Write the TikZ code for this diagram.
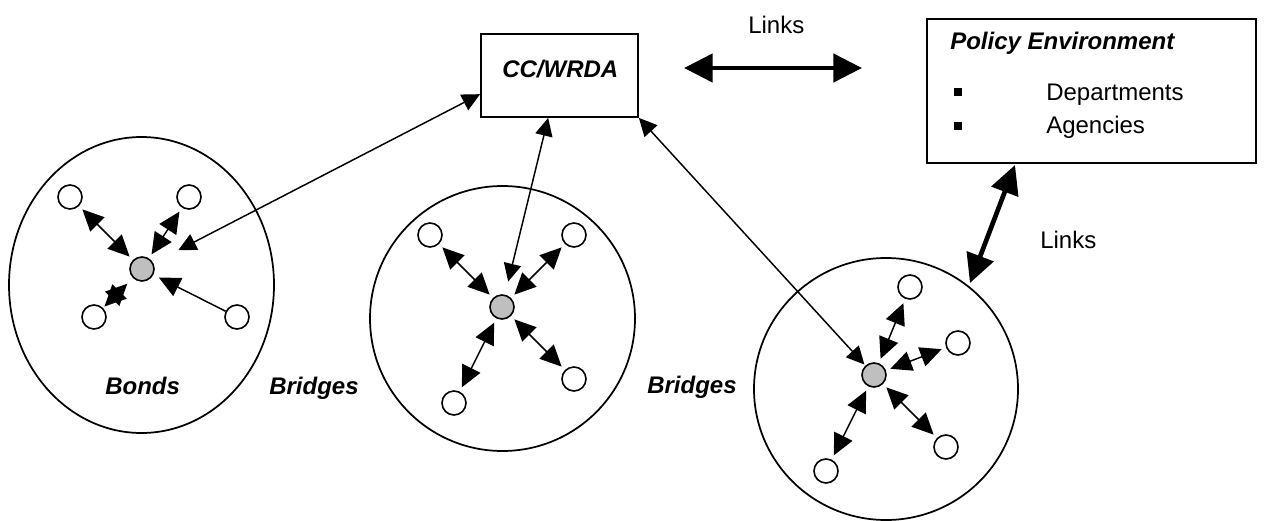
\documentclass[tikz,border=0pt]{standalone}
\usepackage{fontspec}
\setmainfont{Liberation Sans}
\usetikzlibrary{arrows.meta,shapes.geometric}
\begin{document}
\begin{tikzpicture}[x=0.75pt,y=-0.75pt,
  txt/.style={font=\fontsize{18}{21}\selectfont, anchor=base west, inner sep=0pt},
  btxt/.style={txt, font=\fontsize{18}{21}\selectfont\bfseries\itshape},
  sn/.style={circle, draw, line width=1.2pt, fill=white, minimum size=18pt, inner sep=0pt},
  hub/.style={sn, fill=gray!50},
  grp/.style={ellipse, draw, line width=1.3pt, inner sep=0pt},
  box/.style={rectangle, draw, line width=1.3pt, inner sep=0pt},
  tip/.style={-{Triangle[length=16pt,width=15pt]}},
  dtip/.style={{Triangle[length=16pt,width=15pt]}-{Triangle[length=16pt,width=15pt]}},
  ctip/.style={{Triangle[length=13.5pt,width=13pt]}-{Triangle[length=13.5pt,width=13pt]}},
  bond/.style={dtip, line width=1.1pt, shorten <=3.5pt, shorten >=3.5pt},
  conn/.style={ctip, line width=1.1pt},
  link/.style={{Triangle[length=21.5pt,width=21pt]}-{Triangle[length=21.5pt,width=21pt]}, line width=3.5pt},
  bullet/.style={rectangle, fill=black, minimum size=6pt, inner sep=0pt}
]
\useasboundingbox (0,0) rectangle (1265,521);

% boxes
\node[box, minimum width=117.75pt, minimum height=62.25pt] (cc) at (559.5,75.5) {};
\node[btxt] (cct) at (502,77) {CC/WRDA};
\node[box, minimum width=246.75pt, minimum height=108pt] (pol) at (1091.5,91) {};
\node[btxt] (polt) at (950,50) {Policy Environment};
\node[bullet] (b1) at (958,92) {};
\node[bullet] (b2) at (958,126) {};
\node[txt] (dep) at (1046,100) {Departments};
\node[txt] (age) at (1046,133) {Agencies};

% links
\coordinate (l1a) at (684,68);
\coordinate (l1b) at (862,68);
\draw[link] (l1a) -- (l1b);
\node[txt] (lk1) at (748,33) {Links};
\coordinate (l2a) at (1015,165);
\coordinate (l2b) at (970,283);
\draw[link] (l2a) -- (l2b);
\node[txt] (lk2) at (1040,248) {Links};

% groups
\node[grp, minimum width=198.75pt, minimum height=222pt] (gl) at (141.5,285) {};
\node[grp, minimum width=198.75pt, minimum height=198.75pt] (gm) at (502.5,318.5) {};
\node[grp, minimum width=198pt, minimum height=196.5pt] (gr) at (886,389) {};

% labels
\node[btxt] (bonds) at (105,394) {Bonds};
\node[btxt] (br1) at (269,394) {Bridges};
\node[btxt] (br2) at (647,393) {Bridges};

% left cluster
\node[hub] (hl) at (142,269) {};
\node[sn] (a1) at (70,197) {};
\node[sn] (a2) at (189,197) {};
\node[sn] (a3) at (94,317) {};
\node[sn] (a4) at (237,317) {};
\draw[bond] (hl) -- (a1);
\draw[bond] (hl) -- (a2);
\draw[dtip, line width=1.1pt, shorten <=1.5pt, shorten >=6pt] (a3) -- (hl);
\draw[tip, line width=1.1pt, shorten >=4.5pt] (a4) -- (hl);

% middle cluster
\node[hub] (hm) at (502,307) {};
\node[sn] (m1) at (430,235) {};
\node[sn] (m2) at (574,235) {};
\node[sn] (m3) at (454,403) {};
\node[sn] (m4) at (574,379) {};
\draw[bond] (hm) -- (m1);
\draw[bond] (hm) -- (m2);
\draw[bond] (hm) -- (m3);
\draw[bond] (hm) -- (m4);

% right cluster
\node[hub] (hr) at (874,375) {};
\node[sn] (r1) at (910,287) {};
\node[sn] (r2) at (958,343) {};
\node[sn] (r3) at (946,447) {};
\node[sn] (r4) at (826,471) {};
\draw[bond] (hr) -- (r1);
\draw[bond] (hr) -- (r2);
\draw[bond] (hr) -- (r3);
\draw[bond] (hr) -- (r4);

% connectors to CC/WRDA
\draw[conn, shorten >=21pt] ([yshift=-14pt]cc.west) -- (hl);
\draw[conn, shorten >=10pt] ([xshift=-8.5pt]cc.south) -- (hm);
\draw[conn, shorten >=1pt] (cc.south east) -- (hr);
\end{tikzpicture}
\end{document}
